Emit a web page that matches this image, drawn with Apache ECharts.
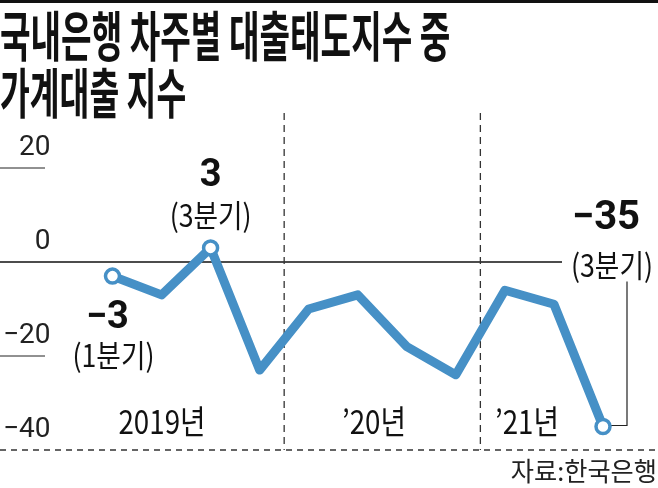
<!DOCTYPE html>
<html><head><meta charset="utf-8">
<script src="https://cdn.jsdelivr.net/npm/echarts@6/dist/echarts.min.js"></script>
<style>html,body{margin:0;padding:0;background:#fff}#c{width:658px;height:488px}</style>
</head><body><div id="c"></div>
<script>
const categories = ['2019Q1','2019Q2','2019Q3','2019Q4','2020Q1','2020Q2','2020Q3','2020Q4','2021Q1','2021Q2','2021Q3'];
const values = [-3, -7, 3, -23, -10, -7, -18, -24, -6, -9, -35];
const yTicks = [-40, -20, 0, 20];
const yearLabels = ['2019년', '’20년', '’21년'];
const titleLines = ['국내은행 차주별 대출태도지수 중', '가계대출 지수'];
const source = '자료:한국은행';

const BLUE = '#4690c6';
const NARROW = '"Liberation Sans Narrow", "Roboto", sans-serif';
const KR = '"Noto Sans CJK KR", sans-serif';

const chart = echarts.init(document.getElementById('c'));
const markerIdx = [0, 2, 10];
chart.setOption({
  animation: false,
  grid: {left: 107, right: 55, top: 168, bottom: 38},
  xAxis: {type: 'category', data: categories, boundaryGap: false, show: false},
  yAxis: {
    type: 'value', min: yTicks[0], max: yTicks[yTicks.length - 1], interval: 20,
    axisLine: {show: false}, axisTick: {show: false}, splitLine: {show: false},
    axisLabel: {
      margin: 62, fontFamily: NARROW, fontSize: 28, color: '#222',
      verticalAlign: 'bottom', padding: [0, 0, 6, 0],
      formatter: v => (v < 0 ? '−' + Math.abs(v) : String(v))
    }
  },
  series: [{
    type: 'line', data: values.map((v, i) => ({
      value: v,
      symbol: markerIdx.includes(i) ? 'circle' : 'none',
      symbolSize: 14
    })),
    showAllSymbol: true,
    lineStyle: {color: BLUE, width: 9, join: 'round'},
    itemStyle: {color: '#fff', borderColor: BLUE, borderWidth: 3.5},
    z: 5
  }]
});

function build() {
  const px = (i, v) => chart.convertToPixel({gridIndex: 0}, [i, v]);
  const W = 658;
  const y20 = px(0, 20)[1], y0 = px(0, 0)[1], ym20 = px(0, -20)[1], ym40 = px(0, -40)[1];
  const xv1 = (px(3, 0)[0] + px(4, 0)[0]) / 2;
  const xv2 = (px(7, 0)[0] + px(8, 0)[0]) / 2;
  const p0 = px(0, values[0]), p2 = px(2, values[2]), p10 = px(10, values[10]);
  const ln = (x1, y1, x2, y2, extra) => Object.assign({type: 'line', shape: {x1, y1, x2, y2},
    style: {stroke: '#222', lineWidth: 1}, z: 1}, extra || {});
  const txt = (text, x, y, size, opts) => {
    opts = opts || {};
    return {type: 'text', x, y, scaleX: opts.sx || 1, z: 10,
      style: {text, fill: opts.fill || '#111', fontSize: size, fontFamily: opts.family || KR,
        fontWeight: opts.weight || 'normal', align: opts.align || 'center', textAlign: opts.align || 'center',
        verticalAlign: 'middle', textVerticalAlign: 'middle'}};
  };
  const fmt = v => (v < 0 ? '−' + Math.abs(v) : String(v));
  const els = [
    {type: 'rect', shape: {x: 0, y: 0, width: W, height: 3}, style: {fill: '#111'}},
    ln(0, y20, 45, y20), ln(0, ym20, 45, ym20),
    ln(0, y0, 562, y0, {style: {stroke: '#111', lineWidth: 1.3}}),
    ln(0, ym40, W, ym40, {style: {stroke: '#333', lineWidth: 1.3, lineDash: [6, 5]}}),
    ln(xv1, 113, xv1, ym40, {style: {stroke: '#333', lineWidth: 1.3, lineDash: [7, 5]}}),
    ln(xv2, 113, xv2, ym40, {style: {stroke: '#333', lineWidth: 1.3, lineDash: [7, 5]}}),
    {type: 'polyline', shape: {points: [[p10[0] + 24, p10[1] - 145], [p10[0] + 24, p10[1] - 1], [p10[0] + 7, p10[1] - 1]]},
      style: {stroke: '#222', lineWidth: 1.2, fill: null}, z: 1},
    txt(titleLines[0], 0, 36, 54, {weight: 'bold', align: 'left', sx: 0.615}),
    txt(titleLines[1], 0, 93, 54, {weight: 'bold', align: 'left', sx: 0.6}),
    txt(fmt(values[2]), p2[0], p2[1] - 71, 38, {weight: 'bold', family: NARROW}),
    txt('(3분기)', p2[0], p2[1] - 33, 31, {sx: 0.86}),
    txt(fmt(values[0]), p0[0] - 5, p0[1] + 42, 38, {weight: 'bold', family: NARROW}),
    txt('(1분기)', p0[0] + 1, p0[1] + 79, 31, {sx: 0.86}),
    txt(fmt(values[10]), p10[0] + 3, p10[1] - 208, 40, {weight: 'bold', family: NARROW}),
    txt('(3분기)', p10[0] + 9, p10[1] - 161, 31, {sx: 0.86}),
    txt(yearLabels[0], 162, 421, 33, {sx: 0.84}),
    txt(yearLabels[1], 374, 421, 33, {sx: 0.84}),
    txt(yearLabels[2], 527, 421, 33, {sx: 0.84}),
    txt(source, 657, 471, 26, {align: 'right', sx: 0.97, fill: '#222'})
  ];
  chart.setOption({graphic: {elements: els}});
}
build();
</script></body></html>
